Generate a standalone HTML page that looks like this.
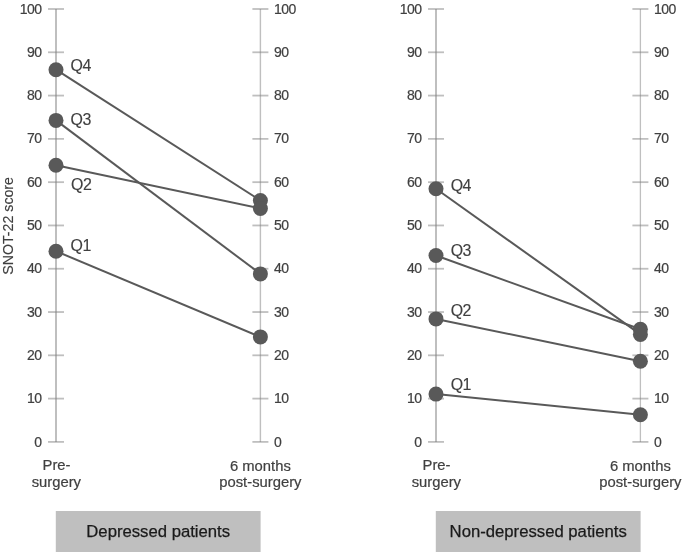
<!DOCTYPE html>
<html><head><meta charset="utf-8"><style>
html,body{margin:0;padding:0;background:#fff;width:685px;height:554px;overflow:hidden}
svg{display:block;will-change:transform}
text{font-family:"Liberation Sans",sans-serif;}
.t{font-size:14px;fill:#404040;stroke:#404040;stroke-width:0.2px;letter-spacing:-0.5px}
.q{font-size:16.8px;fill:#404040;stroke:#404040;stroke-width:0.15px;letter-spacing:-0.6px}
.c{font-size:14.8px;fill:#404040;stroke:#404040;stroke-width:0.2px}
.b{font-size:16.7px;fill:#1a1a1a;stroke:#1a1a1a;stroke-width:0.25px}
.y{font-size:14.2px;fill:#404040;stroke:#404040;stroke-width:0.15px}
</style></head><body>
<svg width="685" height="554" viewBox="0 0 685 554">
<rect width="685" height="554" fill="#fff"/>
<line x1="56.0" y1="9.0" x2="56.0" y2="441.9" stroke="#808080" stroke-opacity="0.5" stroke-width="2.0"/>
<line x1="48.0" y1="441.90" x2="64.0" y2="441.90" stroke="#808080" stroke-opacity="0.5" stroke-width="1.8"/>
<text x="41.5" y="446.50" text-anchor="end" class="t">0</text>
<line x1="48.0" y1="398.61" x2="64.0" y2="398.61" stroke="#808080" stroke-opacity="0.5" stroke-width="1.8"/>
<text x="41.5" y="403.21" text-anchor="end" class="t">10</text>
<line x1="48.0" y1="355.32" x2="64.0" y2="355.32" stroke="#808080" stroke-opacity="0.5" stroke-width="1.8"/>
<text x="41.5" y="359.92" text-anchor="end" class="t">20</text>
<line x1="48.0" y1="312.03" x2="64.0" y2="312.03" stroke="#808080" stroke-opacity="0.5" stroke-width="1.8"/>
<text x="41.5" y="316.63" text-anchor="end" class="t">30</text>
<line x1="48.0" y1="268.74" x2="64.0" y2="268.74" stroke="#808080" stroke-opacity="0.5" stroke-width="1.8"/>
<text x="41.5" y="273.34" text-anchor="end" class="t">40</text>
<line x1="48.0" y1="225.45" x2="64.0" y2="225.45" stroke="#808080" stroke-opacity="0.5" stroke-width="1.8"/>
<text x="41.5" y="230.05" text-anchor="end" class="t">50</text>
<line x1="48.0" y1="182.16" x2="64.0" y2="182.16" stroke="#808080" stroke-opacity="0.5" stroke-width="1.8"/>
<text x="41.5" y="186.76" text-anchor="end" class="t">60</text>
<line x1="48.0" y1="138.87" x2="64.0" y2="138.87" stroke="#808080" stroke-opacity="0.5" stroke-width="1.8"/>
<text x="41.5" y="143.47" text-anchor="end" class="t">70</text>
<line x1="48.0" y1="95.58" x2="64.0" y2="95.58" stroke="#808080" stroke-opacity="0.5" stroke-width="1.8"/>
<text x="41.5" y="100.18" text-anchor="end" class="t">80</text>
<line x1="48.0" y1="52.29" x2="64.0" y2="52.29" stroke="#808080" stroke-opacity="0.5" stroke-width="1.8"/>
<text x="41.5" y="56.89" text-anchor="end" class="t">90</text>
<line x1="48.0" y1="9.00" x2="64.0" y2="9.00" stroke="#808080" stroke-opacity="0.5" stroke-width="1.8"/>
<text x="41.5" y="13.60" text-anchor="end" class="t">100</text>
<line x1="260.4" y1="9.0" x2="260.4" y2="441.9" stroke="#808080" stroke-opacity="0.5" stroke-width="1.4"/>
<line x1="252.39999999999998" y1="441.90" x2="268.4" y2="441.90" stroke="#808080" stroke-opacity="0.5" stroke-width="1.8"/>
<text x="274.0" y="446.50" class="t">0</text>
<line x1="252.39999999999998" y1="398.61" x2="268.4" y2="398.61" stroke="#808080" stroke-opacity="0.5" stroke-width="1.8"/>
<text x="274.0" y="403.21" class="t">10</text>
<line x1="252.39999999999998" y1="355.32" x2="268.4" y2="355.32" stroke="#808080" stroke-opacity="0.5" stroke-width="1.8"/>
<text x="274.0" y="359.92" class="t">20</text>
<line x1="252.39999999999998" y1="312.03" x2="268.4" y2="312.03" stroke="#808080" stroke-opacity="0.5" stroke-width="1.8"/>
<text x="274.0" y="316.63" class="t">30</text>
<line x1="252.39999999999998" y1="268.74" x2="268.4" y2="268.74" stroke="#808080" stroke-opacity="0.5" stroke-width="1.8"/>
<text x="274.0" y="273.34" class="t">40</text>
<line x1="252.39999999999998" y1="225.45" x2="268.4" y2="225.45" stroke="#808080" stroke-opacity="0.5" stroke-width="1.8"/>
<text x="274.0" y="230.05" class="t">50</text>
<line x1="252.39999999999998" y1="182.16" x2="268.4" y2="182.16" stroke="#808080" stroke-opacity="0.5" stroke-width="1.8"/>
<text x="274.0" y="186.76" class="t">60</text>
<line x1="252.39999999999998" y1="138.87" x2="268.4" y2="138.87" stroke="#808080" stroke-opacity="0.5" stroke-width="1.8"/>
<text x="274.0" y="143.47" class="t">70</text>
<line x1="252.39999999999998" y1="95.58" x2="268.4" y2="95.58" stroke="#808080" stroke-opacity="0.5" stroke-width="1.8"/>
<text x="274.0" y="100.18" class="t">80</text>
<line x1="252.39999999999998" y1="52.29" x2="268.4" y2="52.29" stroke="#808080" stroke-opacity="0.5" stroke-width="1.8"/>
<text x="274.0" y="56.89" class="t">90</text>
<line x1="252.39999999999998" y1="9.00" x2="268.4" y2="9.00" stroke="#808080" stroke-opacity="0.5" stroke-width="1.8"/>
<text x="274.0" y="13.60" class="t">100</text>
<line x1="436.0" y1="9.0" x2="436.0" y2="441.9" stroke="#808080" stroke-opacity="0.5" stroke-width="2.0"/>
<line x1="428.0" y1="441.90" x2="444.0" y2="441.90" stroke="#808080" stroke-opacity="0.5" stroke-width="1.8"/>
<text x="421.5" y="446.50" text-anchor="end" class="t">0</text>
<line x1="428.0" y1="398.61" x2="444.0" y2="398.61" stroke="#808080" stroke-opacity="0.5" stroke-width="1.8"/>
<text x="421.5" y="403.21" text-anchor="end" class="t">10</text>
<line x1="428.0" y1="355.32" x2="444.0" y2="355.32" stroke="#808080" stroke-opacity="0.5" stroke-width="1.8"/>
<text x="421.5" y="359.92" text-anchor="end" class="t">20</text>
<line x1="428.0" y1="312.03" x2="444.0" y2="312.03" stroke="#808080" stroke-opacity="0.5" stroke-width="1.8"/>
<text x="421.5" y="316.63" text-anchor="end" class="t">30</text>
<line x1="428.0" y1="268.74" x2="444.0" y2="268.74" stroke="#808080" stroke-opacity="0.5" stroke-width="1.8"/>
<text x="421.5" y="273.34" text-anchor="end" class="t">40</text>
<line x1="428.0" y1="225.45" x2="444.0" y2="225.45" stroke="#808080" stroke-opacity="0.5" stroke-width="1.8"/>
<text x="421.5" y="230.05" text-anchor="end" class="t">50</text>
<line x1="428.0" y1="182.16" x2="444.0" y2="182.16" stroke="#808080" stroke-opacity="0.5" stroke-width="1.8"/>
<text x="421.5" y="186.76" text-anchor="end" class="t">60</text>
<line x1="428.0" y1="138.87" x2="444.0" y2="138.87" stroke="#808080" stroke-opacity="0.5" stroke-width="1.8"/>
<text x="421.5" y="143.47" text-anchor="end" class="t">70</text>
<line x1="428.0" y1="95.58" x2="444.0" y2="95.58" stroke="#808080" stroke-opacity="0.5" stroke-width="1.8"/>
<text x="421.5" y="100.18" text-anchor="end" class="t">80</text>
<line x1="428.0" y1="52.29" x2="444.0" y2="52.29" stroke="#808080" stroke-opacity="0.5" stroke-width="1.8"/>
<text x="421.5" y="56.89" text-anchor="end" class="t">90</text>
<line x1="428.0" y1="9.00" x2="444.0" y2="9.00" stroke="#808080" stroke-opacity="0.5" stroke-width="1.8"/>
<text x="421.5" y="13.60" text-anchor="end" class="t">100</text>
<line x1="640.4" y1="9.0" x2="640.4" y2="441.9" stroke="#808080" stroke-opacity="0.5" stroke-width="1.3"/>
<line x1="632.4" y1="441.90" x2="648.4" y2="441.90" stroke="#808080" stroke-opacity="0.5" stroke-width="1.8"/>
<text x="654.0" y="446.50" class="t">0</text>
<line x1="632.4" y1="398.61" x2="648.4" y2="398.61" stroke="#808080" stroke-opacity="0.5" stroke-width="1.8"/>
<text x="654.0" y="403.21" class="t">10</text>
<line x1="632.4" y1="355.32" x2="648.4" y2="355.32" stroke="#808080" stroke-opacity="0.5" stroke-width="1.8"/>
<text x="654.0" y="359.92" class="t">20</text>
<line x1="632.4" y1="312.03" x2="648.4" y2="312.03" stroke="#808080" stroke-opacity="0.5" stroke-width="1.8"/>
<text x="654.0" y="316.63" class="t">30</text>
<line x1="632.4" y1="268.74" x2="648.4" y2="268.74" stroke="#808080" stroke-opacity="0.5" stroke-width="1.8"/>
<text x="654.0" y="273.34" class="t">40</text>
<line x1="632.4" y1="225.45" x2="648.4" y2="225.45" stroke="#808080" stroke-opacity="0.5" stroke-width="1.8"/>
<text x="654.0" y="230.05" class="t">50</text>
<line x1="632.4" y1="182.16" x2="648.4" y2="182.16" stroke="#808080" stroke-opacity="0.5" stroke-width="1.8"/>
<text x="654.0" y="186.76" class="t">60</text>
<line x1="632.4" y1="138.87" x2="648.4" y2="138.87" stroke="#808080" stroke-opacity="0.5" stroke-width="1.8"/>
<text x="654.0" y="143.47" class="t">70</text>
<line x1="632.4" y1="95.58" x2="648.4" y2="95.58" stroke="#808080" stroke-opacity="0.5" stroke-width="1.8"/>
<text x="654.0" y="100.18" class="t">80</text>
<line x1="632.4" y1="52.29" x2="648.4" y2="52.29" stroke="#808080" stroke-opacity="0.5" stroke-width="1.8"/>
<text x="654.0" y="56.89" class="t">90</text>
<line x1="632.4" y1="9.00" x2="648.4" y2="9.00" stroke="#808080" stroke-opacity="0.5" stroke-width="1.8"/>
<text x="654.0" y="13.60" class="t">100</text>
<line x1="56.0" y1="69.7" x2="260.4" y2="200.5" stroke="#595959" stroke-width="2.0"/>
<line x1="56.0" y1="120.4" x2="260.4" y2="273.9" stroke="#595959" stroke-width="2.0"/>
<line x1="56.0" y1="165.3" x2="260.4" y2="208.5" stroke="#595959" stroke-width="2.0"/>
<line x1="56.0" y1="251.2" x2="260.4" y2="336.9" stroke="#595959" stroke-width="2.0"/>
<line x1="436.0" y1="188.7" x2="640.4" y2="334.4" stroke="#595959" stroke-width="2.0"/>
<line x1="436.0" y1="255.5" x2="640.4" y2="329.3" stroke="#595959" stroke-width="2.0"/>
<line x1="436.0" y1="318.9" x2="640.4" y2="361.2" stroke="#595959" stroke-width="2.0"/>
<line x1="436.0" y1="394.1" x2="640.4" y2="414.7" stroke="#595959" stroke-width="2.0"/>
<circle cx="56.0" cy="69.7" r="7.5" fill="#595959"/>
<circle cx="260.4" cy="200.5" r="7.5" fill="#595959"/>
<circle cx="56.0" cy="120.4" r="7.5" fill="#595959"/>
<circle cx="260.4" cy="273.9" r="7.5" fill="#595959"/>
<circle cx="56.0" cy="165.3" r="7.5" fill="#595959"/>
<circle cx="260.4" cy="208.5" r="7.5" fill="#595959"/>
<circle cx="56.0" cy="251.2" r="7.5" fill="#595959"/>
<circle cx="260.4" cy="336.9" r="7.5" fill="#595959"/>
<circle cx="436.0" cy="188.7" r="7.5" fill="#595959"/>
<circle cx="640.4" cy="334.4" r="7.5" fill="#595959"/>
<circle cx="436.0" cy="255.5" r="7.5" fill="#595959"/>
<circle cx="640.4" cy="329.3" r="7.5" fill="#595959"/>
<circle cx="436.0" cy="318.9" r="7.5" fill="#595959"/>
<circle cx="640.4" cy="361.2" r="7.5" fill="#595959"/>
<circle cx="436.0" cy="394.1" r="7.5" fill="#595959"/>
<circle cx="640.4" cy="414.7" r="7.5" fill="#595959"/>
<text transform="translate(70.6,70.5) scale(0.95,1)" class="q">Q4</text>
<text transform="translate(70.6,125.1) scale(0.95,1)" class="q">Q3</text>
<text transform="translate(71.1,190.4) scale(0.95,1)" class="q">Q2</text>
<text transform="translate(70.6,251.1) scale(0.95,1)" class="q">Q1</text>
<text transform="translate(450.7,190.9) scale(0.95,1)" class="q">Q4</text>
<text transform="translate(450.7,255.5) scale(0.95,1)" class="q">Q3</text>
<text transform="translate(450.7,316.4) scale(0.95,1)" class="q">Q2</text>
<text transform="translate(450.7,389.8) scale(0.95,1)" class="q">Q1</text>
<text x="56.5" y="470.3" text-anchor="middle" class="c">Pre-</text>
<text x="56.3" y="486.5" text-anchor="middle" class="c">surgery</text>
<text x="436.5" y="470.3" text-anchor="middle" class="c">Pre-</text>
<text x="436.3" y="486.5" text-anchor="middle" class="c">surgery</text>
<text x="260.4" y="470.7" text-anchor="middle" class="c">6 months</text>
<text x="260.4" y="486.9" text-anchor="middle" class="c">post-surgery</text>
<text x="640.4" y="470.7" text-anchor="middle" class="c">6 months</text>
<text x="640.4" y="486.9" text-anchor="middle" class="c">post-surgery</text>
<rect x="55.8" y="511" width="204.79999999999998" height="41" fill="#bfbfbf"/>
<text x="158.2" y="536.8" text-anchor="middle" class="b">Depressed patients</text>
<rect x="435.8" y="511" width="204.79999999999998" height="41" fill="#bfbfbf"/>
<text x="538.2" y="536.8" text-anchor="middle" class="b">Non-depressed patients</text>
<text transform="translate(12.6,225.9) rotate(-90)" text-anchor="middle" class="y">SNOT-22 score</text>
</svg>
</body></html>
